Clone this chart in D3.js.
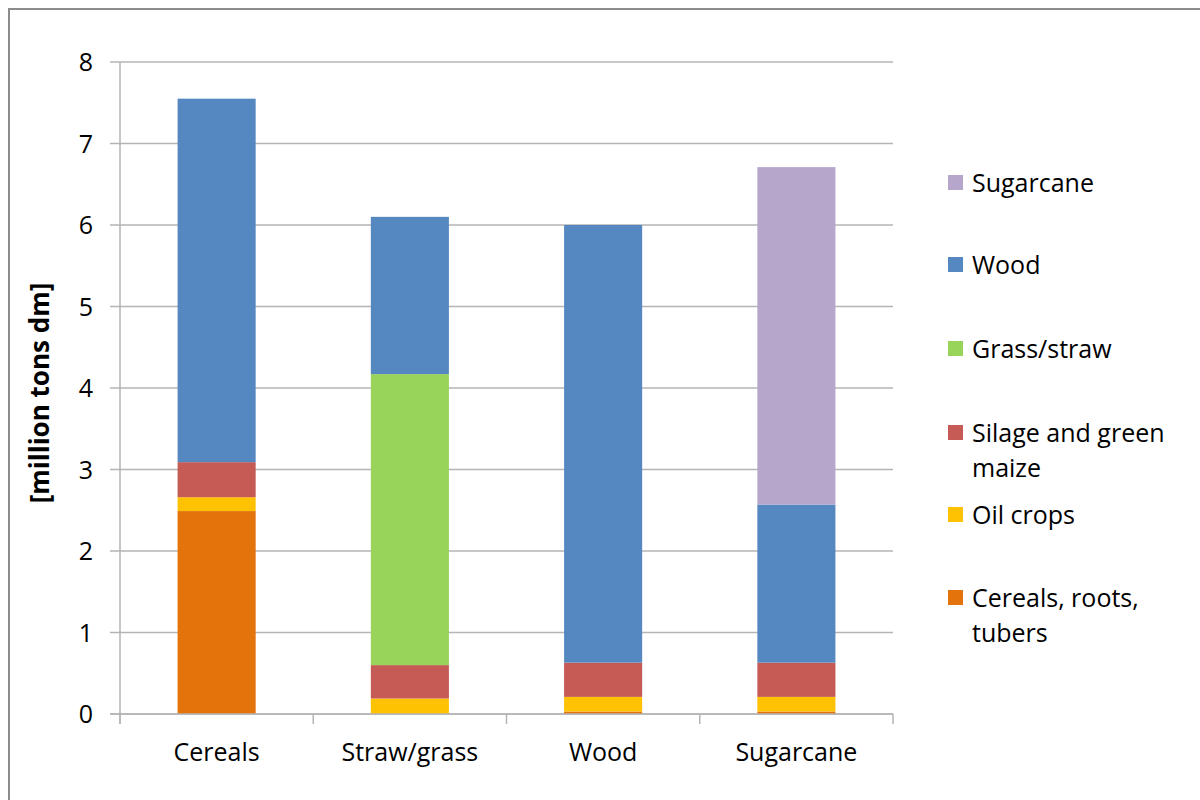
<!DOCTYPE html>
<html>
<head>
<meta charset="utf-8">
<script src="https://cdn.jsdelivr.net/npm/d3@7"></script>
<style>
  body { margin: 0; background: #fff; }
  svg { font-family: "Open Sans", "Liberation Sans", sans-serif; }
</style>
</head>
<body>
<div id="chart"></div>
<script>
const categories = ["Cereals", "Straw/grass", "Wood", "Sugarcane"];
// stack order, bottom to top
const seriesNames = ["Cereals, roots, tubers", "Oil crops", "Silage and green maize", "Grass/straw", "Wood", "Sugarcane"];
const cerealsRoots = [2.49, 0, 0.03, 0.03];
const oilCrops = [0.17, 0.19, 0.18, 0.18];
const silage = [0.43, 0.41, 0.42, 0.42];
const grassStraw = [0, 3.57, 0, 0];
const wood = [4.46, 1.93, 5.37, 1.94];
const sugarcane = [0, 0, 0, 4.14];
const yTicks = [0, 1, 2, 3, 4, 5, 6, 7, 8];
const colors = ["#E5730C", "#FFC203", "#C65A55", "#98D35A", "#5588C1", "#B6A6CB"];

const width = 1200, height = 800;
const margin = {top: 62, right: 307, bottom: 86, left: 120};
const innerW = width - margin.left - margin.right,
    innerH = height - margin.top - margin.bottom;

const values = [cerealsRoots, oilCrops, silage, grassStraw, wood, sugarcane];
const rows = categories.map((c, i) => {
    const r = {cat: c};
    seriesNames.forEach((s, j) => r[s] = values[j][i]);
    return r;
});
const stacked = d3.stack().keys(seriesNames)(rows);

const svg = d3.select("#chart")
    .append("svg")
    .attr("width", width)
    .attr("height", height);

// outer frame
svg.append("rect")
    .attr("x", 9).attr("y", 9)
    .attr("width", width + 20).attr("height", height + 20)
    .attr("fill", "none")
    .attr("stroke", "#8c8c8c")
    .attr("stroke-width", 2);

const g = svg.append("g")
    .attr("transform", `translate(${margin.left},${margin.top})`);

const x = d3.scaleBand().domain(categories).range([0, innerW]).padding(0);
const y = d3.scaleLinear().domain([0, 8]).range([innerH, 0]);
const barW = x.bandwidth() * 0.404;

// gridlines + y ticks
g.selectAll(".grid")
    .data(yTicks)
    .enter()
    .append("line")
    .attr("x1", -10).attr("x2", innerW)
    .attr("y1", d => y(d)).attr("y2", d => y(d))
    .attr("stroke", "#b5b5b5")
    .attr("stroke-width", 1.5);

g.selectAll(".ylab")
    .data(yTicks)
    .enter()
    .append("text")
    .attr("x", -27)
    .attr("y", d => y(d))
    .attr("dy", "0.36em")
    .attr("text-anchor", "end")
    .attr("font-size", 25)
    .attr("fill", "#000")
    .text(d => d);

// bars
g.selectAll(".series")
    .data(stacked)
    .enter()
    .append("g")
    .attr("fill", (d, i) => colors[i])
    .selectAll("rect")
    .data(d => d)
    .enter()
    .append("rect")
    .attr("x", d => x(d.data.cat) + (x.bandwidth() - barW) / 2)
    .attr("width", barW)
    .attr("y", d => y(d[1]))
    .attr("height", d => y(d[0]) - y(d[1]));

// axes lines
g.append("line")
    .attr("x1", 0).attr("x2", 0)
    .attr("y1", 0).attr("y2", innerH + 10)
    .attr("stroke", "#b5b5b5").attr("stroke-width", 1.5);
g.append("line")
    .attr("x1", -10).attr("x2", innerW)
    .attr("y1", innerH).attr("y2", innerH)
    .attr("stroke", "#b5b5b5").attr("stroke-width", 1.5);
g.selectAll(".xtick")
    .data(d3.range(categories.length + 1))
    .enter()
    .append("line")
    .attr("x1", i => i * x.step()).attr("x2", i => i * x.step())
    .attr("y1", innerH).attr("y2", innerH + 10)
    .attr("stroke", "#b5b5b5").attr("stroke-width", 1.5);

g.selectAll(".xlab")
    .data(categories)
    .enter()
    .append("text")
    .attr("x", d => x(d) + x.bandwidth() / 2)
    .attr("y", innerH + 38)
    .attr("dy", "0.36em")
    .attr("text-anchor", "middle")
    .attr("font-size", 25)
    .attr("fill", "#000")
    .text(d => d);

// y title
svg.append("text")
    .attr("transform", "translate(40,393) rotate(-90)")
    .attr("text-anchor", "middle")
    .attr("dy", "0.36em")
    .attr("font-size", 26)
    .attr("font-weight", "bold")
    .attr("fill", "#000")
    .text("[million tons dm]");

// legend (top entry is last series)
const legendItems = [
    {name: "Sugarcane", lines: ["Sugarcane"], y: 183},
    {name: "Wood", lines: ["Wood"], y: 265},
    {name: "Grass/straw", lines: ["Grass/straw"], y: 349},
    {name: "Silage and green maize", lines: ["Silage and green", "maize"], y: 433},
    {name: "Oil crops", lines: ["Oil crops"], y: 515},
    {name: "Cereals, roots, tubers", lines: ["Cereals, roots,", "tubers"], y: 598}
];
const legend = svg.append("g");
const li = legend.selectAll("g")
    .data(legendItems)
    .enter()
    .append("g");
li.append("rect")
    .attr("x", 948)
    .attr("y", d => d.y - 8)
    .attr("width", 15).attr("height", 15)
    .attr("fill", d => colors[seriesNames.indexOf(d.name)]);
li.append("text")
    .attr("x", 972)
    .attr("y", d => d.y)
    .attr("font-size", 25)
    .attr("fill", "#000")
    .selectAll("tspan")
    .data(d => d.lines)
    .enter()
    .append("tspan")
    .attr("x", 972)
    .attr("dy", (d, i) => i === 0 ? "0.36em" : "35px")
    .text(d => d);
</script>
</body>
</html>
